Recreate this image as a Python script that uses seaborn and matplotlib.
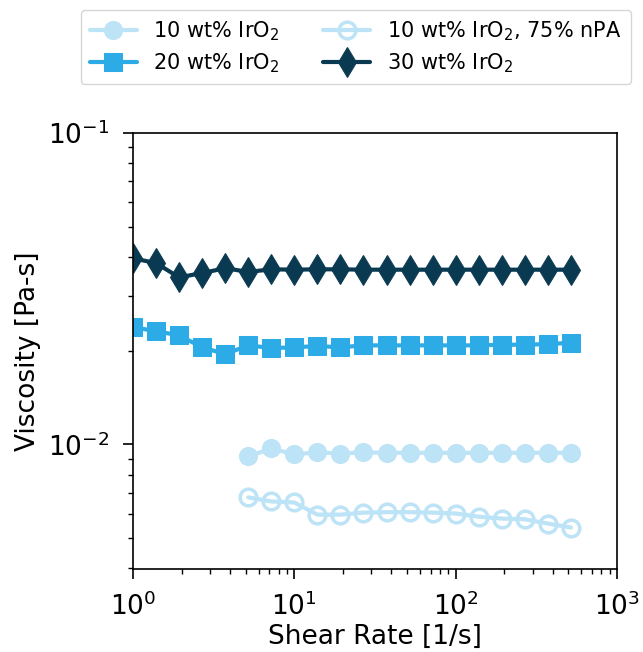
import numpy as np
import pandas as pd
import matplotlib
matplotlib.use("Agg")
import matplotlib.pyplot as plt
import seaborn as sns

# Shear rates (1/s)
shear_full = [1.0, 1.39, 1.93, 2.68, 3.73, 5.18, 7.2, 10.0, 13.9, 19.3,
              26.8, 37.3, 51.8, 72.0, 100.0, 139.0, 193.0, 268.0, 373.0, 518.0]
shear_short = shear_full[5:]

# Viscosities (Pa-s)
visc_10 = [0.00915, 0.00971, 0.00929, 0.00943, 0.00935, 0.00943, 0.00940, 0.00940,
           0.00940, 0.00940, 0.00940, 0.00940, 0.00940, 0.00940, 0.00940]
visc_10_npa = [0.00676, 0.00656, 0.00651, 0.00595, 0.00595, 0.00604, 0.00606, 0.00606,
               0.00604, 0.00600, 0.00586, 0.00578, 0.00575, 0.00557, 0.00541]
visc_20 = [0.0238, 0.0231, 0.0224, 0.0205, 0.0195, 0.0208, 0.0204, 0.0205, 0.0207,
           0.0205, 0.0208, 0.0208, 0.0208, 0.0208, 0.0208, 0.0208, 0.0209, 0.0209,
           0.0210, 0.0212]
visc_30 = [0.0396, 0.0382, 0.0344, 0.0355, 0.0368, 0.0358, 0.0365, 0.0364, 0.0365,
           0.0365, 0.0364, 0.0364, 0.0364, 0.0364, 0.0364, 0.0364, 0.0364, 0.0364,
           0.0364, 0.0364]

labels = ["10 wt% IrO$_2$", "20 wt% IrO$_2$", "10 wt% IrO$_2$, 75% nPA", "30 wt% IrO$_2$"]
colors = ["#BDE3F6", "#2CABE7", "#BDE3F6", "#0A3A52"]

sns.set_style("ticks")
plt.rcParams.update({
    "font.family": ["DejaVu Sans"],
    "text.color": "black",
    "axes.labelcolor": "black",
    "axes.edgecolor": "black",
    "xtick.color": "black",
    "ytick.color": "black",
})

fig = plt.figure(figsize=(6.43, 6.52), dpi=100)
ax = fig.add_axes([133 / 643, 1 - 569 / 652, (617 - 133) / 643, (569 - 133) / 652])

series = [
    (shear_short, visc_10, dict(marker="o", markersize=13)),
    (shear_full, visc_20, dict(marker="s", markersize=13)),
    (shear_short, visc_10_npa, dict(marker="o", markersize=12, markerfacecolor="none",
                                   markeredgewidth=2.5)),
    (shear_full, visc_30, dict(marker="d", markersize=15)),
]

for (x, y, style), lab, col in zip(series, labels, colors):
    df = pd.DataFrame({"x": x, "y": y})
    sns.lineplot(data=df, x="x", y="y", ax=ax, color=col, linewidth=3, label=lab,
                 markeredgecolor=col, **style)

ax.set_xscale("log")
ax.set_yscale("log")
ax.set_xlim(1, 1000)
ax.set_ylim(10 ** -2.4, 0.1)
ax.set_xlabel("Shear Rate [1/s]", fontsize=19, labelpad=2)
ax.set_ylabel("Viscosity [Pa-s]", fontsize=19, labelpad=5)
ax.tick_params(axis="both", which="major", labelsize=19, length=7, width=1.2)
ax.tick_params(axis="x", which="major", pad=10)
ax.tick_params(axis="y", which="major", pad=10)
ax.tick_params(axis="both", which="minor", length=3.8, width=1)
for s in ax.spines.values():
    s.set_linewidth(1.2)
    s.set_visible(True)

ax.legend(loc="lower center", bbox_to_anchor=(0.5 - 0.04, 1.112), borderaxespad=0,
          ncol=2, fontsize=15, frameon=True, handlelength=2.25, columnspacing=2.1,
          borderpad=0.45, labelspacing=0.38, handletextpad=0.8)

fig.savefig("out.png", dpi=100)
